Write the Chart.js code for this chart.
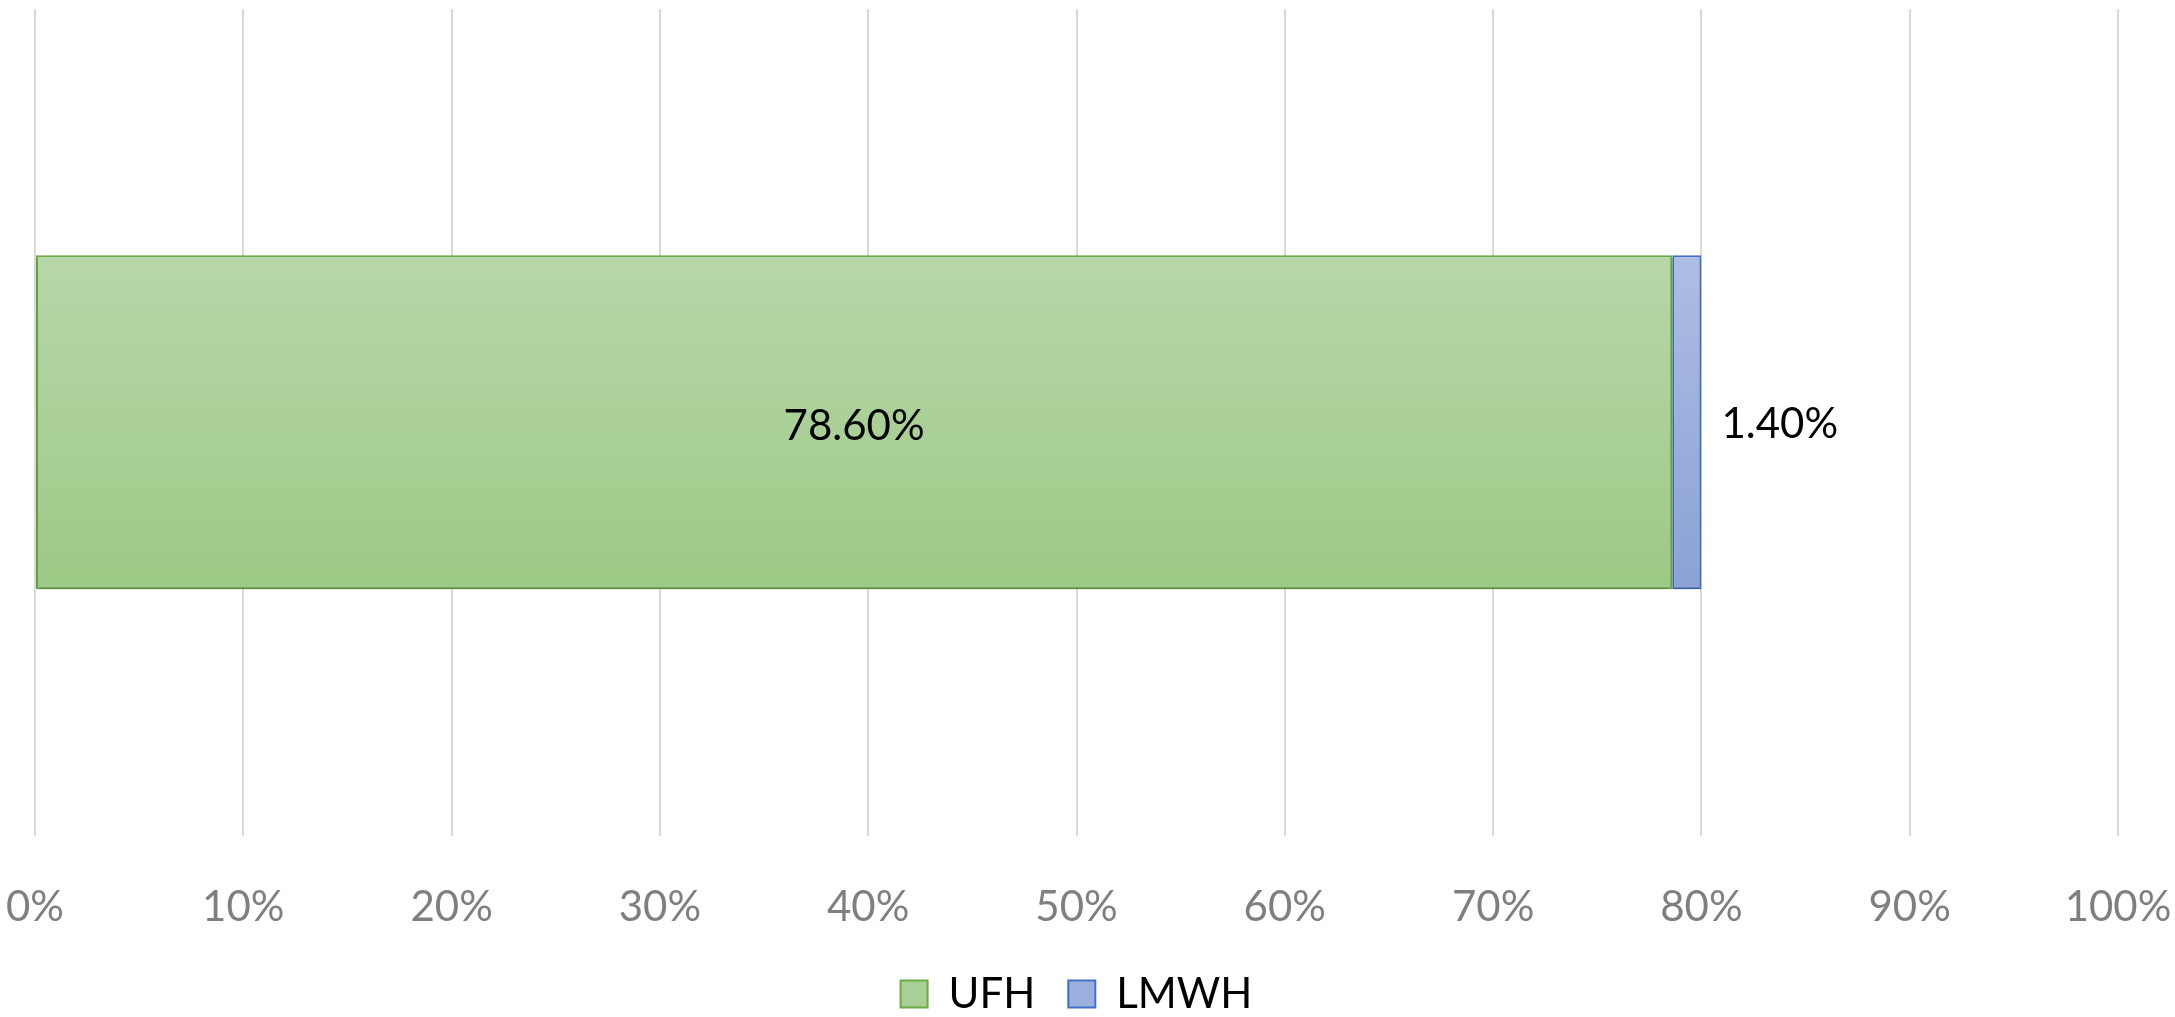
<!DOCTYPE html>
<html>
<head>
<meta charset="utf-8">
<script src="https://cdn.jsdelivr.net/npm/chart.js@4"></script>
<style>
  html, body { margin: 0; padding: 0; background: #fff; }
  #wrap { width: 2175px; height: 1017px; }
</style>
</head>
<body>
<div id="wrap"><canvas id="barChart" width="2175" height="1017"></canvas></div>
<script>
var categories = [''];
var seriesNames = ['UFH', 'LMWH'];
var ufhValues = [78.6];
var lmwhValues = [1.4];
var tickValues = [0, 10, 20, 30, 40, 50, 60, 70, 80, 90, 100];

var fontName = 'Lato';

// vertical gradient over the bar height
function barGradient(top, bottom) {
    return function (ctx) {
        var chart = ctx.chart;
        if (!chart.chartArea) return top;
        var y = chart.scales.y;
        var mid = y.getPixelForValue(0);
        var half = y.height * 0.404 / 2;
        var g = chart.ctx.createLinearGradient(0, mid - half, 0, mid + half);
        g.addColorStop(0, top);
        g.addColorStop(1, bottom);
        return g;
    };
}

var shadowPlugin = {
    id: 'barShadow',
    beforeDatasetsDraw: function (chart) {
        var c = chart.ctx;
        c.save();
        c.shadowColor = 'rgba(0,0,0,0.22)';
        c.shadowBlur = 4;
        c.shadowOffsetY = 3;
    },
    afterDatasetsDraw: function (chart) {
        chart.ctx.restore();
    }
};

var valueLabels = {
    id: 'valueLabels',
    afterDatasetsDraw: function (chart) {
        var c = chart.ctx;
        c.save();
        c.font = '42px ' + fontName;
        c.fillStyle = '#000';
        c.textBaseline = 'middle';
        chart.data.datasets.forEach(function (ds, i) {
            var meta = chart.getDatasetMeta(i);
            meta.data.forEach(function (bar, j) {
                var txt = ds.data[j].toFixed(2) + '%';
                if (i === 0) {
                    c.textAlign = 'center';
                    c.fillText(txt, (bar.x + bar.base) / 2, bar.y + 4);
                } else {
                    c.textAlign = 'left';
                    c.fillText(txt, bar.x + 20, bar.y + 2);
                }
            });
        });
        c.restore();
    }
};

var ctx = document.getElementById('barChart').getContext('2d');
new Chart(ctx, {
    type: 'bar',
    data: {
        labels: categories,
        datasets: [
            {
                label: seriesNames[0],
                data: ufhValues,
                backgroundColor: barGradient('#b7d7a8', '#9dc986'),
                borderColor: '#6aab41',
                borderWidth: 2,
                borderSkipped: false,
                barPercentage: 0.404,
                categoryPercentage: 1
            },
            {
                label: seriesNames[1],
                data: lmwhValues,
                backgroundColor: barGradient('#aebde3', '#8aa2d6'),
                borderColor: '#4070c8',
                borderWidth: 2,
                borderSkipped: false,
                barPercentage: 0.404,
                categoryPercentage: 1
            }
        ]
    },
    options: {
        indexAxis: 'y',
        responsive: false,
        animation: false,
        layout: { padding: { top: 9, left: 35, right: 57, bottom: -8 } },
        scales: {
            x: {
                stacked: true,
                min: 0,
                max: 100,
                afterBuildTicks: function (axis) {
                    axis.ticks = tickValues.map(function (v) { return { value: v }; });
                },
                afterFit: function (axis) {
                    axis.paddingLeft = 0;
                    axis.paddingRight = 0;
                    axis.height -= 40;
                },
                ticks: {
                    color: '#7f7f7f',
                    font: { family: fontName, size: 42 },
                    padding: 47,
                    callback: function (v) { return v + '%'; }
                },
                grid: { color: '#d9d9d9', lineWidth: 2, drawTicks: false },
                border: { display: false }
            },
            y: {
                stacked: true,
                display: false
            }
        },
        plugins: {
            tooltip: { enabled: false },
            legend: {
                position: 'bottom',
                labels: {
                    color: '#7f7f7f',
                    font: { family: fontName, size: 42 },
                    boxWidth: 27,
                    boxHeight: 27,
                    padding: 33,
                    generateLabels: function () {
                        return [
                            { text: seriesNames[0], fillStyle: '#a9cf96', strokeStyle: '#6aab41', lineWidth: 2, datasetIndex: 0 },
                            { text: seriesNames[1], fillStyle: '#9cb0dd', strokeStyle: '#4070c8', lineWidth: 2, datasetIndex: 1 }
                        ];
                    }
                }
            }
        }
    },
    plugins: [shadowPlugin, valueLabels]
});
</script>
</body>
</html>
